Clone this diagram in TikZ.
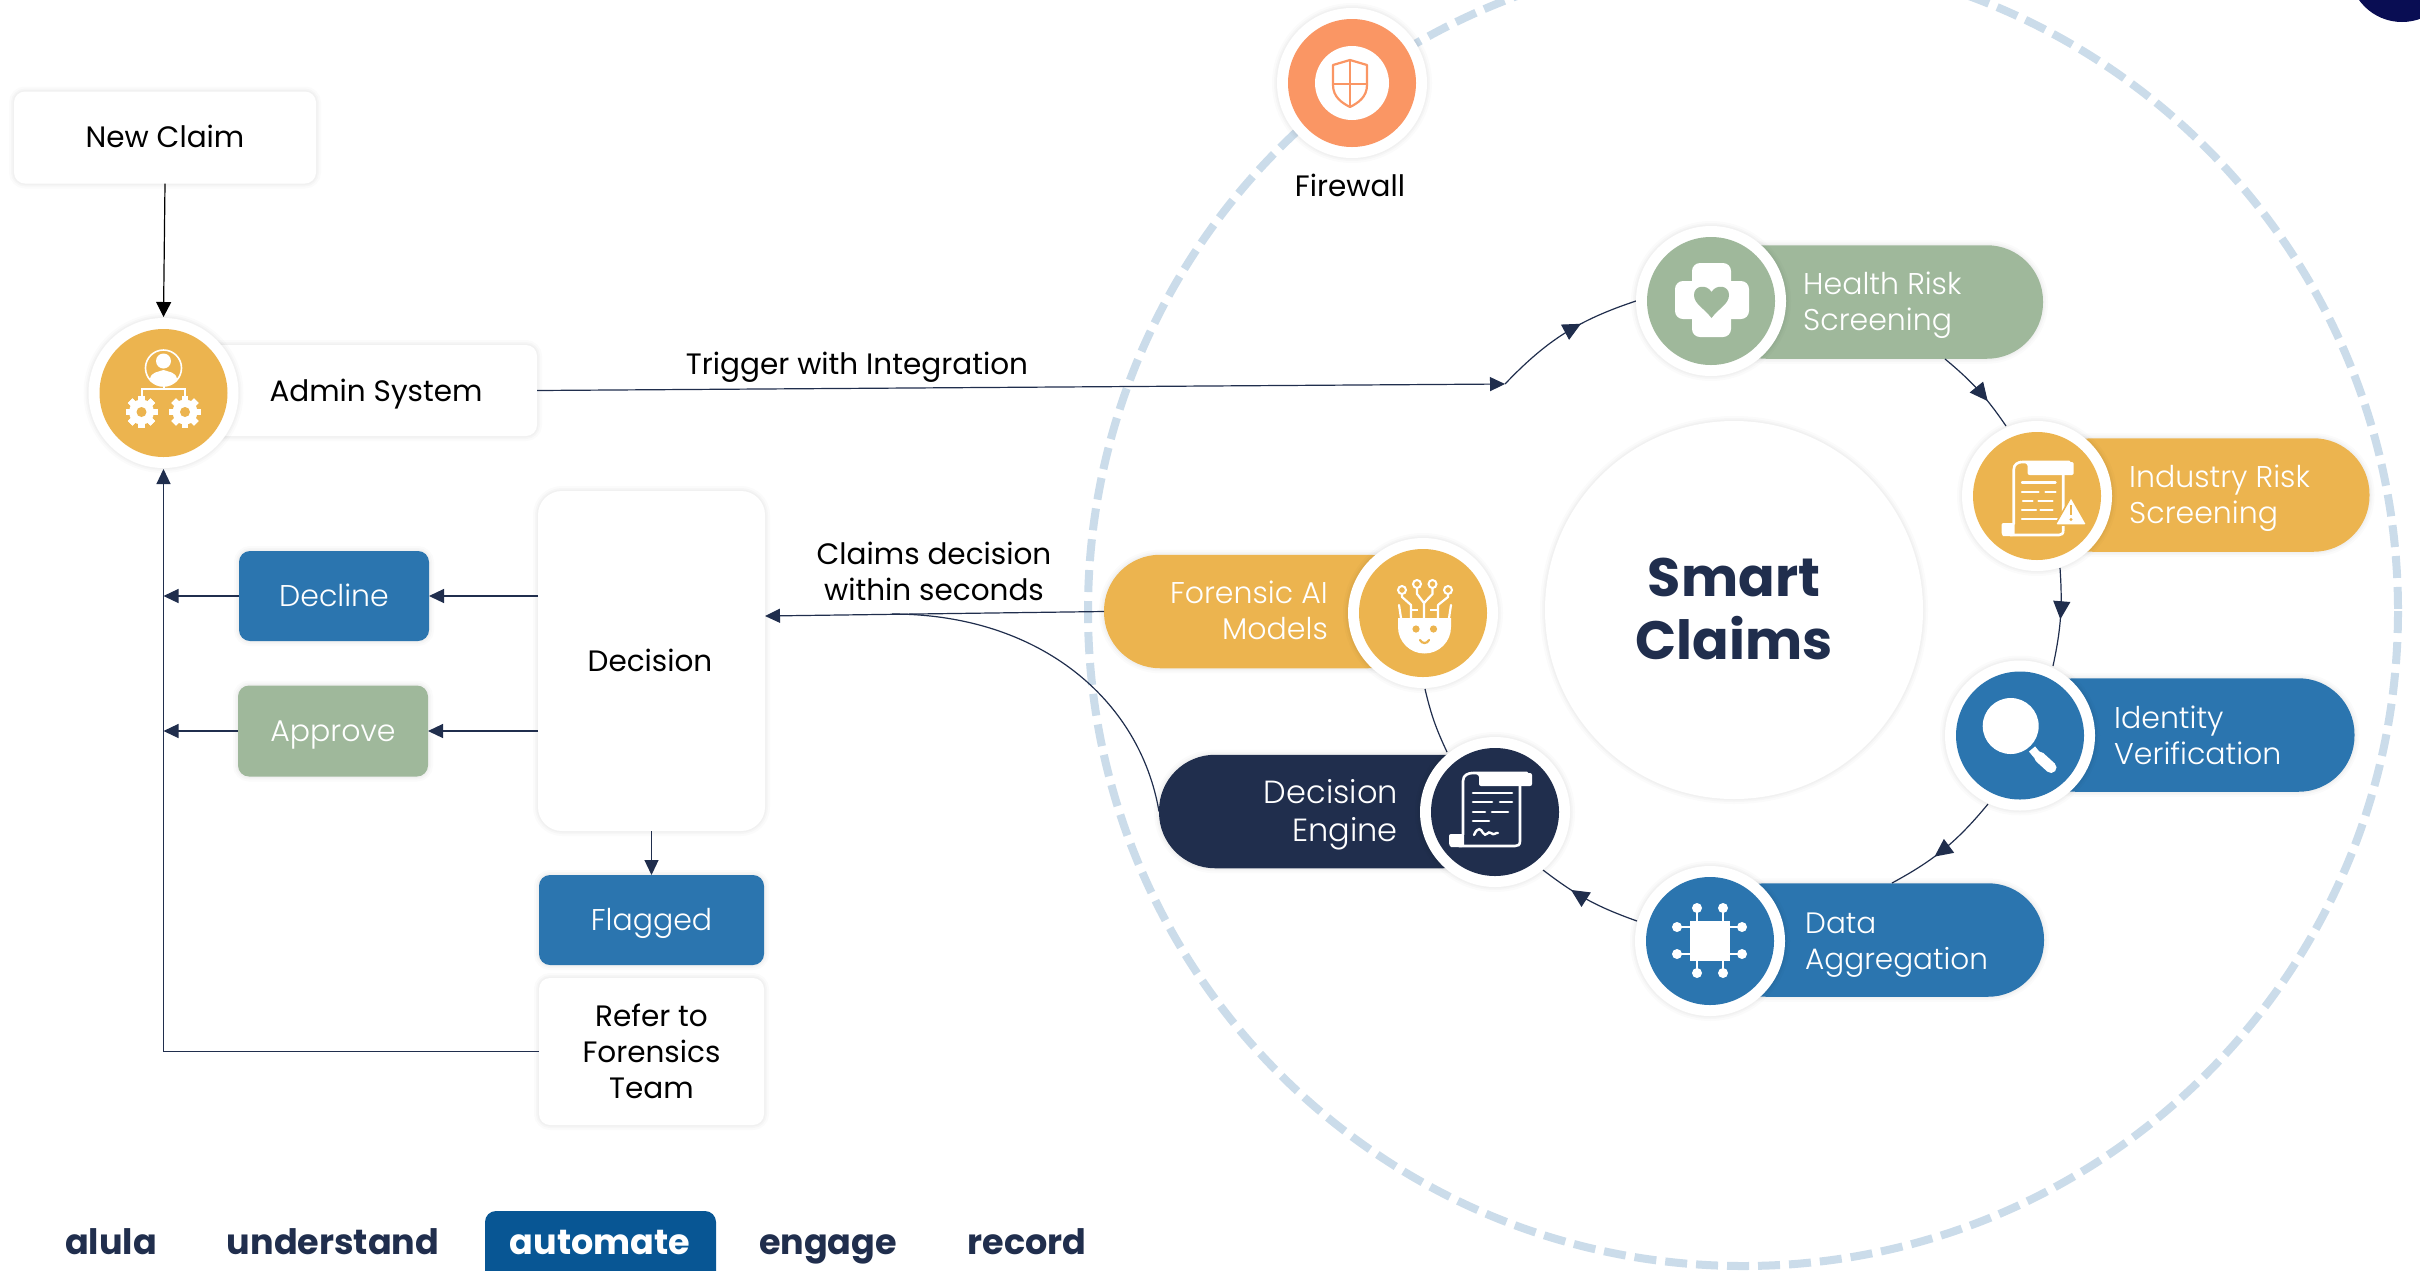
\documentclass[tikz,border=0pt]{standalone}
\usepackage{fontspec}
\setmainfont{Poppins}
\newfontfamily\plight{Poppins Light}
\usetikzlibrary{arrows.meta,decorations.markings}
\definecolor{cyel}{HTML}{ECB44F}
\definecolor{cgrn}{HTML}{9FB89B}
\definecolor{cblu}{HTML}{2B75AF}
\definecolor{cnav}{HTML}{202E4D}
\definecolor{corg}{HTML}{FA9664}
\definecolor{cbar}{HTML}{085694}
\definecolor{cdash}{HTML}{CBDCEA}
\tikzset{
  halo/.style={preaction={draw=black,opacity=.016,line width=10pt},preaction={draw=black,opacity=.018,line width=6pt},preaction={draw=black,opacity=.02,line width=3pt}},
  card/.style={rectangle,rounded corners=11pt,fill=#1,halo,inner sep=0pt,outer sep=0pt},
  pill/.style={rectangle,rounded corners=56pt,fill=#1,minimum height=113.5pt,inner sep=0pt,outer sep=0pt,halo},
  ringc/.style={circle,fill=white,minimum size=150pt,inner sep=0pt,outer sep=0pt,halo},
  dotc/.style={circle,fill=#1,minimum size=128pt,inner sep=0pt,outer sep=0pt},
  txt/.style={font=\fontsize{29.5}{36}\selectfont,text=black,inner sep=0pt,align=center},
  wtxt/.style={font=\plight\fontsize{30}{36}\selectfont,text=white,inner sep=0pt,align=left},
  nav/.style={font=\bfseries\fontsize{35}{40}\selectfont,text=cnav,inner sep=0pt,anchor=base},
  link/.style={draw=cnav,line width=1.2pt},
  tipped/.style={link,-{Triangle[length=15pt,width=14pt,fill=cnav]}},
  ringarrow/.style={link,postaction={decorate,decoration={markings,mark=at position #1 with {\arrow{Triangle[length=18pt,width=17pt,fill=cnav]}}}}},
  wl/.style={draw=white,line width=2.6pt,line cap=round},
}
\newcommand{\badge}[4]{\node[ringc] (#1) at (#2,#3) {};\node[dotc=#4] (#1i) at (#2,#3) {};}
\newcommand{\gearic}[2]{%
  \foreach \a in {0,45,...,315}{\fill[white,rotate around={\a:(#1,#2)}] (#1-3.2,#2-16) rectangle (#1+3.2,#2+16);}
  \fill[white] (#1,#2) circle[radius=12.5];
  \fill[cyel] (#1,#2) circle[radius=5];}
\newcommand{\scrollbody}{%
  \draw[wl] (14,62) -- (14,8) .. controls (14,2) and (19,0) .. (24,0) -- (78,0);
  \fill[white,rounded corners=2pt] (22,0) -- (83,0) -- (83,13) -- (30,13) -- (30,6) .. controls (30,2) and (26,0) .. (22,0) -- cycle;
  \draw[wl] (71,13) -- (71,68) .. controls (71,72) and (69,73) .. (66,73) -- (10,73);
  \fill[white,rounded corners=2pt] (0,61) -- (15,61) -- (15,74) -- (4,74) .. controls (1,74) and (0,71) .. (0,68) -- cycle;}
\begin{document}
\begin{tikzpicture}[x=1pt,y=-1pt]
\useasboundingbox (0,0) rectangle (2420,1270);
\clip (0,0) rectangle (2420,1270);
\fill[white] (0,0) rectangle (2420,1270);
% top-right corner disc and the large dashed ring
\fill[black!20!cnav!60!blue!60!black] (2402,-31) circle[radius=53];
\draw[cdash,line width=8pt,dash pattern=on 22pt off 9pt] (1743,611) circle[radius=655];

% named free ends
\coordinate (trig) at (1505,384);
\coordinate (hIn) at (1636,301);
\coordinate (hOut) at (1945,359);
\coordinate (iIn) at (2006,426);
\coordinate (iOut) at (2060,568);
\coordinate (vIn) at (2053,666);
\coordinate (vOut) at (1988,804);
\coordinate (dIn) at (1892,883);
\coordinate (dOut) at (1637,921);
\coordinate (eIn) at (1543,870);
\coordinate (eOut) at (1447,752);
\coordinate (fIn) at (1425,689);
\coordinate (join) at (892,614);
\coordinate (decIn) at (765,616);

% boxes (left)
\node[card=white,minimum width=302pt,minimum height=92pt] (newclaim) at (165,137.5) {};
\node[txt] (tnew) at (165,136) {New Claim};
\node[card=white,minimum width=340pt,minimum height=91pt] (adminbox) at (367,390.5) {};
\node[txt] (admintxt) at (376,394) {Admin System};
\node[card=white,minimum width=227pt,minimum height=340pt,rounded corners=24pt] (decision) at (651.5,661) {};
\node[txt] (tdecision) at (650,660) {Decision};
\node[card=cblu,minimum width=190pt,minimum height=90pt] (decline) at (334,596) {};
\node[wtxt] (tdecline) at (334,595) {Decline};
\node[card=cgrn,minimum width=190pt,minimum height=91pt] (approve) at (333,731) {};
\node[wtxt] (tapprove) at (333,735) {Approve};
\node[card=cblu,minimum width=225pt,minimum height=90pt] (flagged) at (651.5,920) {};
\node[wtxt] (tflagged) at (651.5,923) {Flagged};
\node[card=white,minimum width=225pt,minimum height=147pt] (refer) at (651.5,1051.5) {};
\node[txt] (trefer) at (651.5,1051.5) {Refer to\\Forensics\\Team};

% pills
\node[pill=cgrn,minimum width=333pt] (health) at (1876.5,302) {};
\node[pill=cyel,minimum width=333pt] (industry) at (2203,495) {};
\node[pill=cblu,minimum width=335pt] (identity) at (2187,735) {};
\node[pill=cblu,minimum width=334pt] (data) at (1877,940) {};
\node[pill=cnav,minimum width=340pt] (engine) at (1329,811.5) {};
\node[pill=cyel,minimum width=320pt] (forensic) at (1264,611.5) {};

% connectors
\draw[draw=black,line width=1.2pt,-{Triangle[length=15pt,width=15pt,fill=black]}] (newclaim.south) -- (163.5,317) coordinate (adminTop);
\draw[tipped] (adminbox.east) -- (trig);
\draw[ringarrow=.62] (trig) to[bend left=14] (hIn);
\draw[ringarrow=.66] (hOut) to[bend left=8] (iIn);
\draw[ringarrow=.52] (iOut) to[bend left=8] (vIn);
\draw[ringarrow=.6] (vOut) to[bend left=11] (dIn);
\draw[ringarrow=.68] (dOut) to[bend left=9] (eIn);
\draw[link] (eOut) to[bend left=6] (fIn);
\draw[tipped] (forensic.west) -- (decIn);
\draw[link] (engine.west) .. controls (1140,700) and (1040,614) .. (join);
\draw[tipped] (decision.west |- decline) -- (decline.east);
\draw[tipped] (decision.west |- approve) -- (approve.east);
\draw[tipped] (decline.west) -- (163.5,596) coordinate (leftA);
\draw[tipped] (approve.west) -- (163.5,731) coordinate (leftB);
\draw[tipped] (flagged.north |- decision.south) -- (flagged.north);
\draw[tipped] (refer.west) -| (163.5,469);

% text in pills
\node[wtxt,anchor=west] (thealth) at (1803,305) {Health Risk\\Screening};
\node[wtxt,anchor=west] (tindustry) at (2129,498) {Industry Risk\\Screening};
\node[wtxt,anchor=west] (tidentity) at (2114,735) {Identity\\Verification};
\node[wtxt,anchor=west,font=\plight\fontsize{29.5}{36}\selectfont] (tdata) at (1805,945) {Data\\Aggregation};
\node[wtxt,anchor=east,align=right] (tforensic) at (1328,610) {Forensic AI\\Models};
\node[wtxt,anchor=east,align=right,font=\plight\fontsize{32}{38}\selectfont] (tengine) at (1398,815) {Decision\\Engine};

% centre
\node[circle,fill=white,minimum size=378pt,inner sep=0pt,halo] (smart) at (1734,610) {};
\node[font=\bfseries\fontsize{54}{63}\selectfont,text=cnav,align=center,inner sep=0pt] (tsmart) at (1734,609) {Smart\\Claims};

% labels
\node[txt] (ltrig) at (857,367) {Trigger with Integration};
\node[txt] (lclaims) at (934,571) {Claims decision\\within seconds};
\node[txt] (lfire) at (1350,185) {Firewall};

% badges
\badge{adminc}{163.5}{393}{cyel}
\badge{healthc}{1711}{301}{cgrn}
\badge{industryc}{2037}{496}{cyel}
\badge{identityc}{2020}{735.5}{cblu}
\badge{datac}{1710}{941}{cblu}
\badge{enginec}{1495}{812}{cnav}
\badge{forensicc}{1423}{613}{cyel}
\badge{firec}{1352}{83}{corg}
\fill[white] (firec) circle[radius=37];

% admin icon
\draw[white,line width=1.6pt] (163.5,368) circle[radius=18];
\fill[white] (163.5,361) circle[radius=7.5];
\fill[white] (150,379) .. controls (151,372) and (158,372) .. (163.5,370) .. controls (169,372) and (176,372) .. (177,379) .. controls (172,388) and (155,388) .. (150,379);
\draw[white,line width=2pt] (163.5,386) -- (163.5,389);
\draw[white,line width=2pt] (141.5,396) -- (141.5,389) -- (185,389) -- (185,396);
\gearic{141.5}{412}
\gearic{185}{412}

% health icon
\fill[white,rounded corners=8pt] (1692,263) rectangle (1731,337);
\fill[white,rounded corners=8pt] (1675,281) rectangle (1749,319);
\fill[cgrn] (1711.5,318) .. controls (1704,308) and (1694,304) .. (1694,295) .. controls (1694,285) and (1707,284) .. (1711.5,292) .. controls (1716,284) and (1729,285) .. (1729,295) .. controls (1729,304) and (1719,308) .. (1711.5,318);

% industry icon
\begin{scope}[shift={(2001.5,462)},xscale=.87]
\scrollbody
\end{scope}
\foreach \ya/\xa/\xb in {482.3/2022/2055.5,491.7/2022/2038.5,491.7/2045.5/2055.5,501/2023/2032.5,501/2038.5/2052.5,510/2022/2036,510/2040.5/2052.5,519/2022/2057}{\draw[white,line width=2.4pt,line cap=round] (\xa,\ya) -- (\xb,\ya);}
\fill[white,rounded corners=2pt,draw=cyel,line width=1.5pt] (2071,497) -- (2087,525) -- (2055,525) -- cycle;
\draw[cyel,line width=2.4pt] (2071,505) -- (2071,515);
\fill[cyel] (2071,519.5) circle[radius=1.6];

% identity icon
\fill[white] (2010.7,726) circle[radius=28];
\draw[white,line width=8pt] (2032,749) -- (2037,755);
\draw[white,line width=11pt,line cap=round] (2039.5,757) -- (2051,767.5);

% data icon
\foreach \xa in {1697,1723}{\draw[white,line width=1.8pt] (\xa,908) -- (\xa,973);\fill[white] (\xa,908) circle[radius=5];\fill[white] (\xa,973) circle[radius=5];}
\foreach \ya in {927,954}{\draw[white,line width=1.8pt] (1677,\ya) -- (1742,\ya);\fill[white] (1677,\ya) circle[radius=5];\fill[white] (1742,\ya) circle[radius=5];}
\fill[white] (1690,921) rectangle (1730,961);

% engine icon
\begin{scope}[shift={(1449,773)}]
\scrollbody
\end{scope}
\foreach \ya/\xa/\xb in {793/1473/1512,802/1473/1492,802/1500/1512,812/1473/1485,812/1492/1508,821/1473/1489}{\draw[white,line width=2.6pt,line cap=round] (\xa,\ya) -- (\xb,\ya);}
\draw[white,line width=2.4pt,line cap=round] (1474,835) .. controls (1478,826) and (1481,829) .. (1483,833) .. controls (1486,838) and (1488,830) .. (1491,833) .. controls (1494,836) and (1496,832) .. (1498,833);

% forensic icon
\fill[white] (1398,618) -- (1451,618) -- (1451,627) arc[start angle=0,end angle=180,radius=26.5] -- cycle;
\fill[cyel] (1416,629) circle[radius=3.6];
\fill[cyel] (1433.5,629) circle[radius=3.6];
\draw[cyel,line width=2.2pt,line cap=round] (1420,640) .. controls (1422,644) and (1427,644) .. (1429,640);
\draw[white,line width=2.2pt,line join=round] (1402,593) -- (1402,597) -- (1411,605) -- (1411,618);
\draw[white,line width=2.2pt,line join=round] (1417,587) -- (1417,594) -- (1424,603) -- (1424,618);
\draw[white,line width=2.2pt,line join=round] (1432.5,587) -- (1432.5,594) -- (1424,603);
\draw[white,line width=2.2pt,line join=round] (1448,593) -- (1448,597) -- (1438,605) -- (1438,618);
\draw[white,line width=2.2pt] (1411,610) -- (1418,610) (1430,610) -- (1438,610);
\draw[white,line width=2.2pt,line cap=round] (1399,605) -- (1401,618) (1451,605) -- (1449,618);
\foreach \xa/\ya in {1402/590,1417/584,1432.5/584,1448/590}{\draw[white,fill=cyel,line width=2pt] (\xa,\ya) circle[radius=4];}

% firewall icon
\draw[corg,line width=2.2pt,line join=round] (1350,60) -- (1367,65) -- (1367,85) .. controls (1367,97) and (1358,103) .. (1350,107) .. controls (1342,103) and (1333,97) .. (1333,85) -- (1333,65) -- cycle;
\draw[corg,line width=2.2pt] (1350,60) -- (1350,107) (1333,84) -- (1367,84);

% navigation
\fill[cbar,rounded corners=11pt] (485,1211) rectangle (716,1300);
\node[nav] (nalula) at (111,1254) {alula};
\node[nav] (nunder) at (333,1254) {understand};
\node[nav,text=white] (nauto) at (600,1254) {automate};
\node[nav] (nengage) at (828,1254) {engage};
\node[nav] (nrecord) at (1027,1254) {record};
\end{tikzpicture}
\end{document}
